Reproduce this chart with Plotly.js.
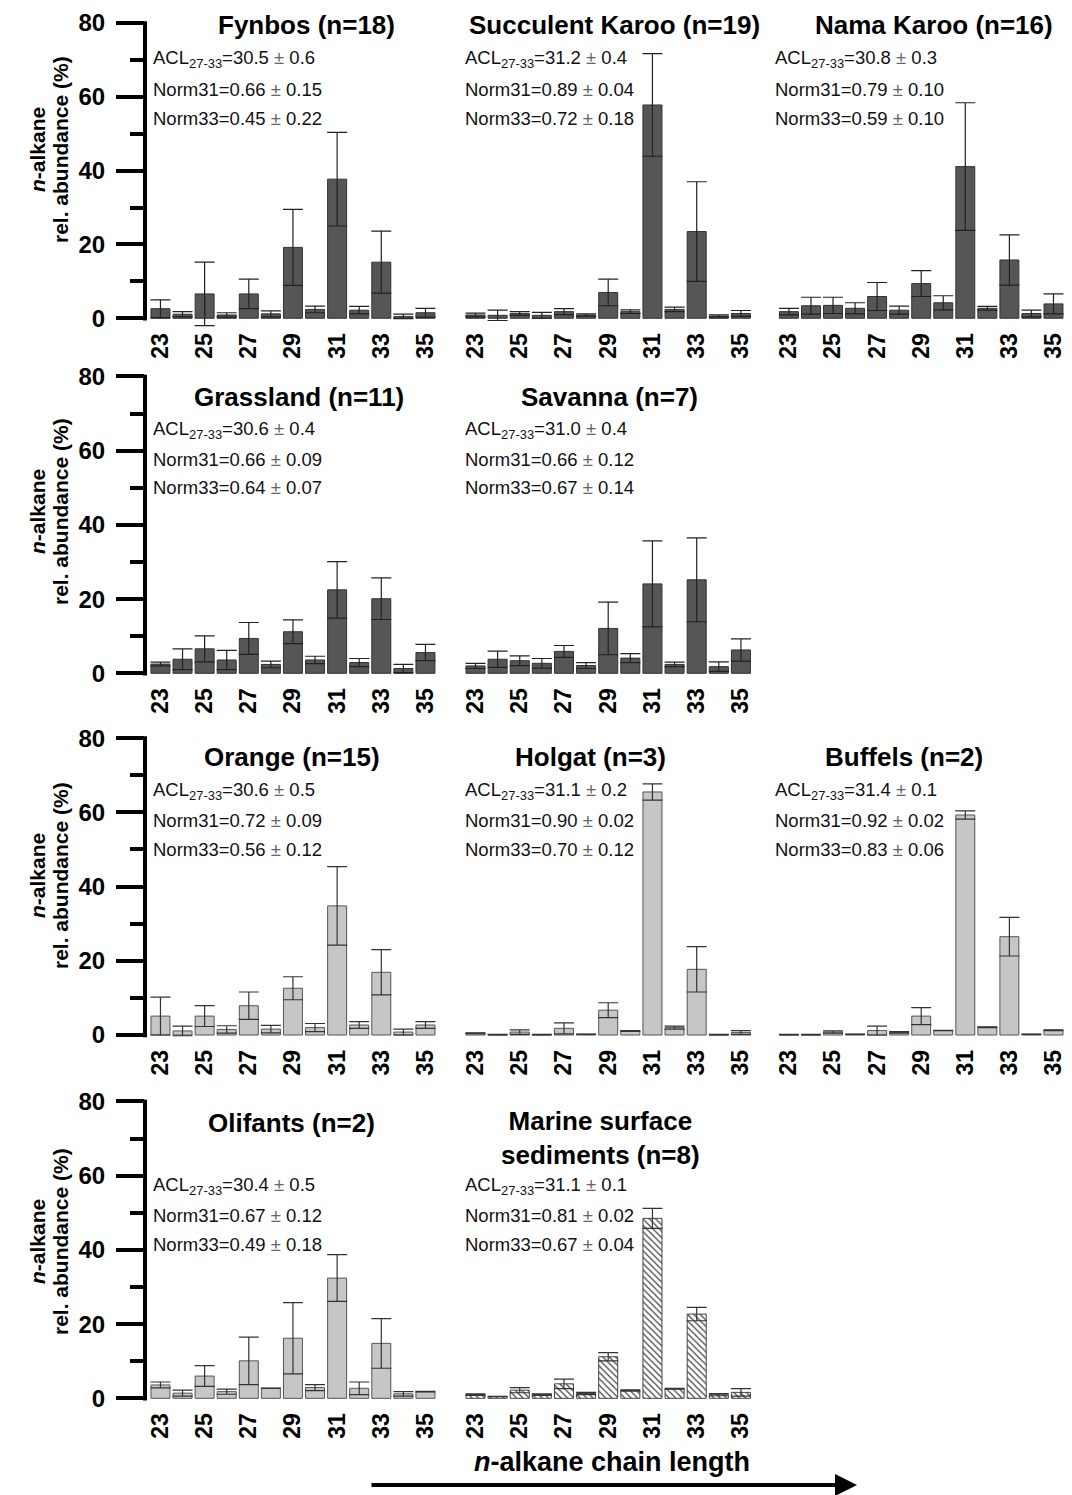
<!DOCTYPE html>
<html><head><meta charset="utf-8">
<script src="https://cdn.plot.ly/plotly-3.0.1.min.js"></script>
<style>html,body{margin:0;padding:0;background:#fff}</style>
</head><body><div id="chart" style="width:1072px;height:1495px"></div>
<script>
// ---------- data ----------
const chainLength = [23,24,25,26,27,28,29,30,31,32,33,34,35];
const chainTicks = [23,25,27,29,31,33,35];

const fynbosMean = [2.6,1.1,6.6,0.9,6.6,1.2,19.2,2.4,37.7,2.2,15.2,0.5,1.5];
const fynbosSD   = [2.4,0.7,8.6,0.6,4.0,0.8,10.3,0.9,12.7,1.0,8.4,0.6,1.2];
const succulentMean = [0.9,0.8,1.3,0.8,1.8,0.9,7.0,1.8,57.8,2.4,23.5,0.6,1.3];
const succulentSD   = [0.5,1.4,0.5,0.8,0.8,0.3,3.6,0.5,13.9,0.6,13.5,0.3,0.8];
const namaMean = [1.8,3.4,3.5,2.7,5.9,2.2,9.4,4.2,41.1,2.7,15.8,1.3,3.9];
const namaSD   = [0.9,2.3,2.2,1.5,3.8,1.1,3.5,1.9,17.3,0.5,6.8,0.9,2.7];
const grasslandMean = [2.5,3.8,6.6,3.6,9.4,2.4,11.2,3.6,22.5,2.9,20.1,1.3,5.6];
const grasslandSD   = [0.5,2.8,3.5,2.6,4.3,0.9,3.2,1.0,7.6,1.1,5.6,1.1,2.2];
const savannaMean = [2.0,3.8,3.4,2.7,5.9,2.1,12.1,4.1,24.1,2.4,25.2,1.8,6.3];
const savannaSD   = [0.7,2.2,1.3,1.3,1.6,0.8,7.1,1.2,11.6,0.6,11.3,1.3,3.0];
const orangeMean = [5.1,1.1,5.1,1.5,7.9,1.6,12.6,2.0,34.8,2.7,16.9,0.8,2.7];
const orangeSD   = [5.1,1.3,2.8,1.0,3.7,1.0,3.1,1.1,10.6,0.9,6.1,0.8,0.9];
const holgatMean = [0.5,0.1,0.8,0.1,1.8,0.2,6.7,1.1,65.5,2.0,17.7,0.1,0.7];
const holgatSD   = [0.1,0.05,0.6,0.05,1.5,0.05,2.0,0.1,2.2,0.4,6.1,0.05,0.5];
const buffelsMean = [0.1,0.1,0.8,0.2,1.2,0.7,5.1,1.2,59.3,2.1,26.5,0.2,1.3];
const buffelsSD   = [0.05,0.05,0.3,0.05,1.2,0.2,2.3,0.05,1.1,0.1,5.2,0.05,0.1];
const olifantsMean = [3.6,1.4,6.0,1.8,10.1,2.7,16.2,2.9,32.4,2.7,14.8,1.2,1.8];
const olifantsSD   = [0.8,0.8,2.8,0.7,6.4,0.05,9.6,0.8,6.3,1.7,6.7,0.6,0.1];
const marineMean = [1.0,0.5,2.2,1.0,3.9,1.3,11.2,2.1,48.5,2.6,22.7,1.0,1.6];
const marineSD   = [0.2,0.05,0.7,0.2,1.3,0.3,1.1,0.2,2.7,0.1,1.8,0.3,1.0];

const panelTitles = ['Fynbos (n=18)','Succulent Karoo (n=19)','Nama Karoo (n=16)',
  'Grassland (n=11)','Savanna (n=7)','Orange (n=15)','Holgat (n=3)','Buffels (n=2)',
  'Olifants (n=2)','Marine surface<br>sediments (n=8)'];
const aclText = ['30.5 ± 0.6','31.2 ± 0.4','30.8 ± 0.3','30.6 ± 0.4','31.0 ± 0.4',
  '30.6 ± 0.5','31.1 ± 0.2','31.4 ± 0.1','30.4 ± 0.5','31.1 ± 0.1'];
const norm31Text = ['0.66 ± 0.15','0.89 ± 0.04','0.79 ± 0.10','0.66 ± 0.09','0.66 ± 0.12',
  '0.72 ± 0.09','0.90 ± 0.02','0.92 ± 0.02','0.67 ± 0.12','0.81 ± 0.02'];
const norm33Text = ['0.45 ± 0.22','0.72 ± 0.18','0.59 ± 0.10','0.64 ± 0.07','0.67 ± 0.14',
  '0.56 ± 0.12','0.70 ± 0.12','0.83 ± 0.06','0.49 ± 0.18','0.67 ± 0.04'];
const yTicks = [0,20,40,60,80];

// ---------- layout helpers ----------
const W = 1072, H = 1495;
const FONT = 'Liberation Sans, Arial, sans-serif';
const means = [fynbosMean,succulentMean,namaMean,grasslandMean,savannaMean,orangeMean,holgatMean,buffelsMean,olifantsMean,marineMean];
const sds = [fynbosSD,succulentSD,namaSD,grasslandSD,savannaSD,orangeSD,holgatSD,buffelsSD,olifantsSD,marineSD];
const rowOf = [0,0,0,1,1,2,2,2,3,3];
const colOf = [0,1,2,0,1,0,1,2,0,1];
const styleOf = ['dark','dark','dark','dark','dark','light','light','light','light','hatch'];
const colLeft = [145, 460, 773.5], colRight = [436.5, 752, 1064.5];
const rowTop = [21.2, 374.6, 736.3, 1099.6], rowBottom = [327.5, 682.6, 1044.3, 1407.6];
const titleX = [306, 614, 934, 298.5, 609, 291.5, 590.5, 904, 291.5, 600];
const titleY = [25, 25, 25, 397, 397, 757, 757, 757, 1123, 1138];
const statsY = [[59,89,118],[430,459,488],[791,820,849],[1186,1215,1244]];
const statsX = [151, 462.7, 773.3];
const yTitleY = [150, 512, 876, 1242];

const px = v => v / W, py = v => 1 - v / H;

const data = [], annotations = [], shapes = [];
const layout = {
  width: W, height: H, margin: {l:0, r:0, t:0, b:0},
  paper_bgcolor: '#fff', plot_bgcolor: 'rgba(0,0,0,0)',
  showlegend: false, font: {family: FONT, color: '#000'},
  annotations, shapes
};

means.forEach((m, i) => {
  const n = i + 1, r = rowOf[i], c = colOf[i], st = styleOf[i];
  const xa = n === 1 ? 'x' : 'x' + n, ya = n === 1 ? 'y' : 'y' + n;
  const xk = n === 1 ? 'xaxis' : 'xaxis' + n, yk = n === 1 ? 'yaxis' : 'yaxis' + n;
  const marker = st === 'dark'
    ? {color: '#565656', line: {color: '#333', width: 1}}
    : st === 'light'
      ? {color: '#c6c6c6', line: {color: '#555', width: 1}}
      : {color: '#fff', line: {color: '#444', width: 1},
         pattern: {shape: '\\', fgcolor: '#444', bgcolor: '#fff', size: 4.5, solidity: 0.28}};
  data.push({
    type: 'bar', x: chainLength, y: m, xaxis: xa, yaxis: ya, width: 0.86,
    marker,
    error_y: {type: 'data', array: sds[i], visible: true, color: st === 'dark' ? '#222' : '#333', thickness: 1.2, width: 10},
    hoverinfo: 'skip'
  });
  layout[xk] = {
    domain: [px(colLeft[c]), px(colRight[c])], anchor: ya,
    range: [22.3, 35.5], tickmode: 'array', tickvals: chainTicks,
    ticktext: chainTicks.map(String),
    tickangle: -90, ticks: '', showline: false, showgrid: false, zeroline: false,
    tickfont: {family: FONT, size: 23, weight: 700, color: '#000'}
  };
  const yaxis = {
    domain: [py(rowBottom[r]), py(rowTop[r])], anchor: xa,
    range: [-2.5, 80.5], showgrid: false, zeroline: false, showline: false
  };
  if (c === 0) {
    Object.assign(yaxis, {
      tickmode: 'array', tickvals: yTicks, ticks: 'outside', ticklen: 28, tickwidth: 4, tickcolor: '#000',
      ticklabelstandoff: 6,
      tickfont: {family: FONT, size: 24, weight: 700, color: '#000'},
      minor: {tickmode: 'linear', tick0: 0, dtick: 10, ticks: 'outside', ticklen: 14, tickwidth: 4, tickcolor: '#000'}
    });
    shapes.push({type: 'line', xref: xa + ' domain', yref: ya, x0: 0, x1: 0, y0: -0.6, y1: 80.6,
      line: {color: '#000', width: 4}});
  } else {
    yaxis.visible = false;
  }
  layout[yk] = yaxis;

  annotations.push({
    xref: 'paper', yref: 'paper', x: px(titleX[i]), y: py(titleY[i]), xanchor: 'center', yanchor: 'middle',
    text: panelTitles[i], showarrow: false,
    font: {family: FONT, size: 26, weight: 700, color: '#000'}
  });
  const pm = s => s.replace('±', '<span style="color:#666">±</span>');
  const lines = ['ACL<sub>27-33</sub>=' + pm(aclText[i]), 'Norm31=' + pm(norm31Text[i]), 'Norm33=' + pm(norm33Text[i])];
  lines.forEach((t, k) => annotations.push({
    xref: 'paper', yref: 'paper', x: px(statsX[c]), y: py(statsY[r][k]), xanchor: 'left', yanchor: 'middle',
    text: t, showarrow: false, font: {family: FONT, size: 18.5, color: '#111'}
  }));
});

// row y-axis titles
yTitleY.forEach(yc => {
  annotations.push({xref: 'paper', yref: 'paper', x: px(37), y: py(yc), xanchor: 'center', yanchor: 'middle',
    textangle: -90, showarrow: false, text: '<i>n</i>-alkane', font: {family: FONT, size: 21, weight: 700, color: '#000'}});
  annotations.push({xref: 'paper', yref: 'paper', x: px(60), y: py(yc), xanchor: 'center', yanchor: 'middle',
    textangle: -90, showarrow: false, text: 'rel. abundance (%)', font: {family: FONT, size: 21, weight: 700, color: '#000'}});
});

// bottom x title and arrow
annotations.push({xref: 'paper', yref: 'paper', x: px(611.5), y: py(1462), xanchor: 'center', yanchor: 'middle',
  showarrow: false, text: '<i>n</i>-alkane chain length', font: {family: FONT, size: 27, weight: 700, color: '#000'}});
annotations.push({xref: 'paper', yref: 'paper', x: px(857), y: py(1485), axref: 'pixel', ayref: 'pixel',
  ax: -487, ay: 0, text: '', showarrow: true, arrowhead: 2, arrowsize: 1.1, arrowwidth: 4, arrowcolor: '#000', standoff: 0});

Plotly.newPlot('chart', data, layout, {staticPlot: true});
</script></body></html>
